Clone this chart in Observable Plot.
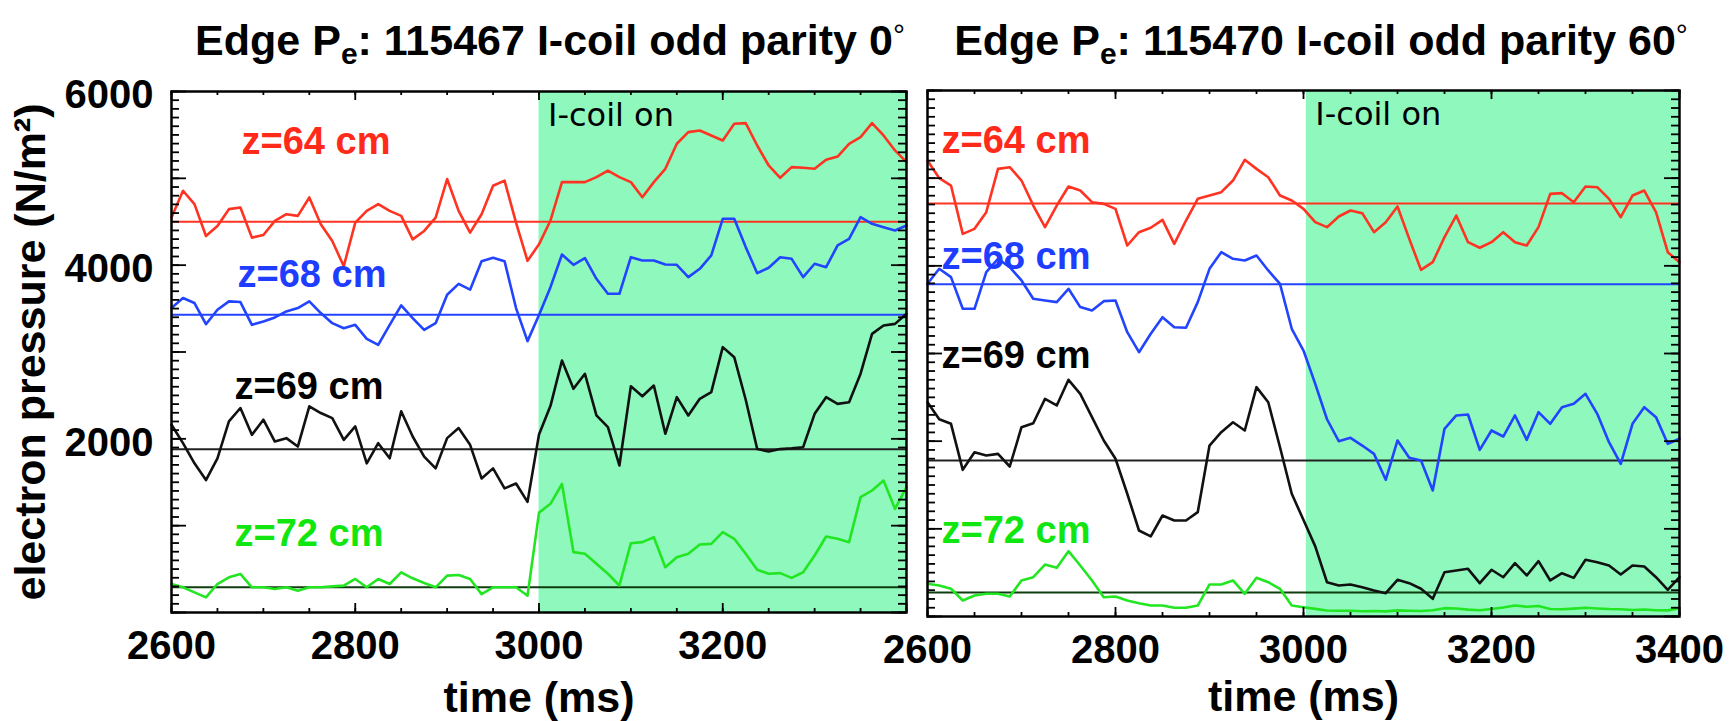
<!DOCTYPE html>
<html>
<head>
<meta charset="utf-8">
<script src="https://cdn.jsdelivr.net/npm/d3@7"></script>
<script src="https://cdn.jsdelivr.net/npm/@observablehq/plot@0.6"></script>
<style>
  html, body { margin: 0; padding: 0; background: #ffffff; }
  #wrap { position: relative; width: 1731px; height: 721px; overflow: hidden; background: #ffffff; }
  .panel { position: absolute; top: 0; }
  .title {
    position: absolute; top: 19px; white-space: nowrap; line-height: 1;
    font-family: "Liberation Sans", Arial, Helvetica, sans-serif; font-weight: bold; font-size: 43px;
    color: #000; transform: translateX(-50%);
  }
  .title .sub { font-size: 30px; vertical-align: -9px; }
  .title .deg { font-weight: normal; font-size: 30px; vertical-align: 10px; }
</style>
</head>
<body>
<div id="wrap">
  <div class="title" style="left:550px">Edge P<span class="sub">e</span>: 115467 I-coil odd parity 0<span class="deg">°</span></div>
  <div class="title" style="left:1321px">Edge P<span class="sub">e</span>: 115470 I-coil odd parity 60<span class="deg">°</span></div>
</div>
<script>
// ---- data -------------------------------------------------------------
const times = [2600, 2612.5, 2625, 2637.5, 2650, 2662.5, 2675, 2687.5, 2700, 2712.5,
  2725, 2737.5, 2750, 2762.5, 2775, 2787.5, 2800, 2812.5, 2825, 2837.5,
  2850, 2862.5, 2875, 2887.5, 2900, 2912.5, 2925, 2937.5, 2950, 2962.5,
  2975, 2987.5, 3000, 3012.5, 3025, 3037.5, 3050, 3062.5, 3075, 3087.5,
  3100, 3112.5, 3125, 3137.5, 3150, 3162.5, 3175, 3187.5, 3200, 3212.5,
  3225, 3237.5, 3250, 3262.5, 3275, 3287.5, 3300, 3312.5, 3325, 3337.5,
  3350, 3362.5, 3375, 3387.5, 3400];

const seriesLabels = ["z=64 cm", "z=68 cm", "z=69 cm", "z=72 cm"];

// shot 115467 (I-coil odd parity 0°)
const leftZ64 = [4550, 4857, 4703, 4336, 4452, 4645, 4664, 4317, 4347, 4510,
  4587, 4568, 4780, 4471, 4278, 3988, 4490, 4625, 4703, 4625,
  4568, 4297, 4394, 4548, 4992, 4625, 4375, 4587, 4915, 4973,
  4490, 4050, 4240, 4515, 4956, 4956, 4956, 5014, 5090, 5014,
  4956, 4783, 4956, 5110, 5398, 5532, 5551, 5494, 5436, 5628,
  5636, 5378, 5148, 5006, 5129, 5121, 5110, 5214, 5251, 5398,
  5474, 5636, 5494, 5321, 5186];
const leftZ68 = [3506, 3622, 3564, 3320, 3486, 3583, 3575, 3313, 3351, 3398,
  3467, 3506, 3583, 3448, 3332, 3274, 3313, 3151, 3081, 3313,
  3537, 3390, 3255, 3332, 3660, 3784, 3718, 4046, 4085, 4046,
  3506, 3125, 3425, 3747, 4123, 4004, 4081, 3843, 3670, 3670,
  4092, 4054, 4054, 4008, 4004, 3862, 3958, 4112, 4534, 4534,
  4208, 3908, 3970, 4092, 4073, 3862, 4016, 3977, 4227, 4304,
  4553, 4476, 4438, 4400, 4457];
const leftZ69 = [2162, 1950, 1718, 1525, 1776, 2201, 2355, 2046, 2220, 1969,
  2008, 1911, 2375, 2297, 2239, 1988, 2143, 1718, 1950, 1776,
  2317, 2027, 1795, 1660, 2008, 2124, 1931, 1544, 1660, 1429,
  1486, 1274, 2050, 2380, 2902, 2576, 2749, 2270, 2134, 1693,
  2605, 2490, 2614, 2058, 2480, 2269, 2461, 2538, 3056, 2940,
  2450, 1882, 1854, 1882, 1890, 1904, 2288, 2480, 2403, 2422,
  2750, 3209, 3305, 3324, 3440];
const leftZ72 = [328, 290, 232, 174, 328, 405, 444, 290, 290, 270,
  290, 251, 290, 290, 301, 309, 386, 290, 386, 328,
  463, 394, 340, 290, 425, 432, 386, 212, 290, 290,
  290, 193, 1150, 1252, 1480, 695, 676, 561, 446, 311,
  798, 810, 867, 522, 637, 676, 783, 790, 925, 849,
  676, 492, 446, 453, 399, 464, 656, 875, 849, 810,
  1328, 1405, 1520, 1194, 1443];
const leftMeans = [4500, 3430, 1880, 290];

// shot 115470 (I-coil odd parity 60°)
const rightZ64 = [5201, 5000, 4916, 4365, 4422, 4612, 5106, 5125, 4973, 4688,
  4441, 4688, 4905, 4859, 4726, 4707, 4650, 4232, 4384, 4434,
  4525, 4251, 4517, 4764, 4802, 4840, 4973, 5209, 5106, 5011,
  4802, 4745, 4650, 4498, 4441, 4563, 4631, 4601, 4384, 4498,
  4677, 4308, 3954, 4042, 4327, 4574, 4270, 4206, 4270, 4384,
  4270, 4232, 4441, 4821, 4829, 4726, 4905, 4897, 4764, 4555,
  4802, 4859, 4612, 4156, 4042];
const rightZ68 = [3795, 3966, 3871, 3510, 3510, 3928, 4080, 3985, 3833, 3624,
  3605, 3586, 3738, 3529, 3491, 3597, 3605, 3243, 3015, 3225,
  3414, 3300, 3293, 3586, 3966, 4156, 4080, 4061, 4118, 3947,
  3795, 3282, 3034, 2654, 2250, 2000, 2038, 1950, 1855, 1559,
  2008, 1810, 1779, 1437, 2141, 2293, 2304, 1901, 2122, 2053,
  2293, 2015, 2331, 2198, 2388, 2426, 2540, 2312, 1988, 1742,
  2198, 2388, 2274, 1970, 2027];
const rightZ69 = [2444, 2250, 2198, 1673, 1874, 1836, 1855, 1711, 2159, 2205,
  2483, 2407, 2700, 2540, 2274, 2008, 1799, 1400, 981, 913,
  1152, 1095, 1095, 1190, 1950, 2102, 2216, 2122, 2616, 2444,
  1931, 1400, 1100, 800, 391, 354, 365, 334, 297, 266,
  418, 380, 316, 202, 505, 525, 544, 380, 533, 448,
  608, 468, 631, 411, 494, 441, 647, 619, 582, 479,
  582, 570, 448, 304, 448];
const rightZ72 = [373, 354, 316, 183, 240, 259, 259, 228, 411, 448,
  593, 555, 745, 582, 411, 220, 228, 183, 152, 125,
  125, 99, 99, 125, 365, 365, 411, 259, 441, 391,
  316, 125, 106, 87, 68, 65, 65, 60, 62, 58,
  70, 66, 62, 72, 95, 92, 78, 72, 85, 102,
  125, 112, 120, 85, 82, 90, 100, 92, 85, 82,
  75, 80, 72, 70, 95];
const rightMeans = [4710, 3790, 1780, 275];

const timeDomain = [2600, 3400];
const pressureDomain = [0, 6000];
const coilOnLeft = 3000;
const coilOnRight = 3003;
const xTickLabelsLeft = [2600, 2800, 3000, 3200];
const xTickLabelsRight = [2600, 2800, 3000, 3200, 3400];
const yTickLabels = [2000, 4000, 6000];

// ---- styles -----------------------------------------------------------
const lineColors = ["#ff3322", "#2244ff", "#111111", "#22e622"];
const refColors = ["#ff3322", "#2244ff", "#222222", "#0f3d0f"];
const labelColors = ["#ff2a1a", "#1f3dff", "#000000", "#11e611"];
const shadeColor = "#8ef8bd";
const boldFont = '"Liberation Sans", Arial, Helvetica, sans-serif';

function makePanel(cfg) {
  const innerH = cfg.height - cfg.marginTop - cfg.marginBottom;
  const innerW = cfg.width - cfg.marginLeft - cfg.marginRight;
  const pyU = innerH / (pressureDomain[1] - pressureDomain[0]); // px per unit
  const pxU = innerW / (timeDomain[1] - timeDomain[0]);         // px per ms
  const xMinor = d3.range(timeDomain[0], timeDomain[1] + 1, 50);
  const xMajor = d3.range(timeDomain[0], timeDomain[1] + 1, 200);
  const yMinor = d3.range(pressureDomain[0], pressureDomain[1] + 1, 100);
  const yMajor = d3.range(pressureDomain[0], pressureDomain[1] + 1, 1000);
  const xMin = 4 / pyU, xMaj = 9 / pyU, yMin = 8 / pxU, yMaj = 15 / pxU;
  const yMid = (pressureDomain[0] + pressureDomain[1]) / 2;

  const marks = [];
  marks.push(Plot.rect([{x1: cfg.coilOn, x2: timeDomain[1], y1: pressureDomain[0], y2: pressureDomain[1]}],
    {x1: "x1", x2: "x2", y1: "y1", y2: "y2", fill: shadeColor}));
  cfg.means.forEach((m, i) => marks.push(Plot.ruleY([m], {y: d => d, stroke: refColors[i], strokeWidth: 2})));
  cfg.series.forEach((vals, i) => {
    const rows = vals.map((v, k) => ({t: times[k], v}));
    marks.push(Plot.line(rows, {x: "t", y: "v", stroke: lineColors[i], strokeWidth: 2.6}));
  });
  // inward ticks on all four sides
  const tk = {stroke: "#000", strokeWidth: 1.8};
  marks.push(Plot.ruleX(xMinor, {x: d => d, y1: pressureDomain[0], y2: pressureDomain[0] + xMin, ...tk}));
  marks.push(Plot.ruleX(xMajor, {x: d => d, y1: pressureDomain[0], y2: pressureDomain[0] + xMaj, ...tk}));
  marks.push(Plot.ruleX(xMinor, {x: d => d, y1: pressureDomain[1] - xMin, y2: pressureDomain[1], ...tk}));
  marks.push(Plot.ruleX(xMajor, {x: d => d, y1: pressureDomain[1] - xMaj, y2: pressureDomain[1], ...tk}));
  marks.push(Plot.ruleY(yMinor, {y: d => d, x1: timeDomain[0], x2: timeDomain[0] + yMin, ...tk}));
  marks.push(Plot.ruleY(yMajor, {y: d => d, x1: timeDomain[0], x2: timeDomain[0] + yMaj, ...tk}));
  marks.push(Plot.ruleY(yMinor, {y: d => d, x1: timeDomain[1] - yMin, x2: timeDomain[1], ...tk}));
  marks.push(Plot.ruleY(yMajor, {y: d => d, x1: timeDomain[1] - yMaj, x2: timeDomain[1], ...tk}));
  marks.push(Plot.frame({stroke: "#000", strokeWidth: 2.5}));

  // axes
  marks.push(Plot.axisX({ticks: cfg.xTicks, tickSize: 0, tickPadding: 18, label: null,
    tickFormat: d => String(d), fontSize: 40, fontWeight: "bold", fontFamily: boldFont}));
  if (cfg.yTicks) {
    marks.push(Plot.axisY({ticks: cfg.yTicks, tickSize: 0, tickPadding: 18, dy: 4, label: null,
      tickFormat: d => String(d), fontSize: 40, fontWeight: "bold", fontFamily: boldFont}));
    marks.push(Plot.text([{t: timeDomain[0], v: yMid, s: "electron pressure (N/m²)"}],
      {x: "t", y: "v", text: "s", dx: -140, rotate: -90, textAnchor: "middle", lineAnchor: "middle",
       fontSize: 43, fontWeight: "bold", fontFamily: boldFont, fill: "#000"}));
  }
  marks.push(Plot.text(["time (ms)"], {frameAnchor: "bottom", dy: cfg.xTitleDy, lineAnchor: "middle",
    fontSize: 43, fontWeight: "bold", fontFamily: boldFont, fill: "#000"}));

  // annotations
  marks.push(Plot.text(["I-coil on"], {x: cfg.coilOn, frameAnchor: "top", dx: 9, dy: 12, textAnchor: "start",
    lineAnchor: "top", fontSize: 32, fontWeight: "normal", fontFamily: '"DejaVu Sans", Verdana, sans-serif', fill: "#000"}));
  seriesLabels.forEach((s, i) => marks.push(Plot.text([s], {frameAnchor: "top-left", dx: cfg.labelDx[i], dy: cfg.labelDy[i],
    textAnchor: "start", lineAnchor: "middle", fontSize: 38, fontWeight: "bold", fontFamily: boldFont,
    fill: labelColors[i], ariaLabel: "series-label"})));

  const svg = Plot.plot({
    width: cfg.width, height: cfg.height,
    marginLeft: cfg.marginLeft, marginRight: cfg.marginRight, marginTop: cfg.marginTop, marginBottom: cfg.marginBottom,
    x: {domain: timeDomain, axis: null},
    y: {domain: pressureDomain, axis: null},
    style: {background: "transparent", overflow: "visible", fontFamily: boldFont, color: "#000"},
    marks
  });
  svg.querySelectorAll('g[aria-label="series-label"] text').forEach(t => { t.style.letterSpacing = "2px"; });
  svg.classList.add("panel");
  svg.style.left = cfg.left + "px";
  svg.style.position = "absolute";
  svg.style.top = "0px";
  svg.style.maxWidth = "none";
  return svg;
}

const wrap = document.getElementById("wrap");
wrap.appendChild(makePanel({
  left: 0, width: 916, height: 721, marginLeft: 171, marginRight: 10, marginTop: 91, marginBottom: 109,
  series: [leftZ64, leftZ68, leftZ69, leftZ72], means: leftMeans, coilOn: coilOnLeft,
  xTicks: xTickLabelsLeft, yTicks: yTickLabels, xTitleDy: 86,
  labelDx: [70, 66, 63, 63], labelDy: [50, 183, 295, 442]
}));
wrap.appendChild(makePanel({
  left: 916, width: 815, height: 721, marginLeft: 11, marginRight: 52, marginTop: 90, marginBottom: 105,
  series: [rightZ64, rightZ68, rightZ69, rightZ72], means: rightMeans, coilOn: coilOnRight,
  xTicks: xTickLabelsRight, yTicks: null, xTitleDy: 81,
  labelDx: [14, 14, 14, 14], labelDy: [50, 166, 265, 440]
}));
</script>
</body>
</html>
